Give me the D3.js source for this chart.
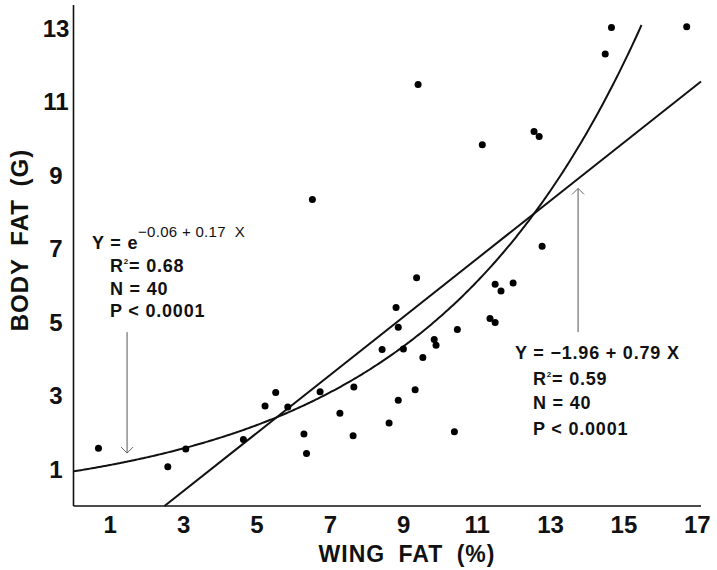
<!DOCTYPE html>
<html lang="en">
<head>
  <meta charset="UTF-8">
  <title>Body fat vs wing fat</title>
  <script src="https://cdn.jsdelivr.net/npm/d3@7"></script>
  <style>
    body { margin: 0; background: #fff; }
    text { font-family: "Liberation Sans", Arial, sans-serif; font-weight: bold; fill: #111; }
  </style>
</head>
<body>
  <div id="chart"></div>

  <script>
    const width = 717,
      height = 570;

    // wing fat (%) and body fat (g) for each bird
    const wingFat = [9.35, 8.79, 8.85, 8.41, 8.99, 9.83, 9.88, 10.46, 9.52, 7.64,
      6.72, 5.51, 5.22, 5.84, 9.31, 8.85, 7.26, 8.60, 6.28, 7.62,
      10.38, 4.63, 6.35, 14.66, 16.71, 14.49, 9.39, 11.14, 12.55, 12.69,
      12.77, 0.68, 3.06, 2.57, 6.51, 11.49, 11.65, 11.98, 11.35, 11.49];
    const bodyFat = [6.21, 5.40, 4.86, 4.26, 4.27, 4.53, 4.37, 4.80, 4.04, 3.24,
      3.11, 3.09, 2.72, 2.69, 3.16, 2.88, 2.52, 2.26, 1.96, 1.91,
      2.02, 1.81, 1.43, 13.02, 13.04, 12.30, 11.47, 9.83, 10.19, 10.05,
      7.07, 1.57, 1.55, 1.07, 8.34, 6.03, 5.85, 6.07, 5.10, 4.99];

    const tickValues = [1, 3, 5, 7, 9, 11, 13, 15, 17];
    const yTickValues = [1, 3, 5, 7, 9, 11, 13];

    // fitted models printed on the figure
    const expCoef = [-0.06, 0.17];   // Y = e^(a + bX)
    const linCoef = [-1.96, 0.79];   // Y = a + bX
    const expRange = [0, 15.48];
    const linRange = [2.48, 17.1];

    // arrows: [x, yFrom, yTo]
    const arrowLeft = [1.46, 4.73, 1.44];
    const arrowRight = [13.75, 4.73, 8.64];

    const x = d3.scaleLinear().domain([0, 17.1]).range([73.5, 701]);
    const y = d3.scaleLinear().domain([0, 13.63]).range([506, 5]);

    const svg = d3.select('#chart')
      .append('svg')
        .attr('width', width)
        .attr('height', height);

    // axes (lines only, no tick marks)
    svg.append('line')
      .attr('x1', x(0)).attr('x2', x(0))
      .attr('y1', y(13.63)).attr('y2', y(0))
      .attr('stroke', '#111').attr('stroke-width', 1.6);
    svg.append('line')
      .attr('x1', x(0)).attr('x2', x(17.1))
      .attr('y1', y(0)).attr('y2', y(0))
      .attr('stroke', '#111').attr('stroke-width', 1.6);

    svg.selectAll('.xtick')
      .data(tickValues)
      .join('text')
        .attr('class', 'xtick')
        .attr('x', d => x(d))
        .attr('y', 533)
        .attr('text-anchor', 'middle')
        .style('font-size', '24px')
        .text(d => d);

    svg.selectAll('.ytick')
      .data(yTickValues)
      .join('text')
        .attr('class', 'ytick')
        .attr('x', 56)
        .attr('y', d => y(d) + 8.5)
        .attr('text-anchor', 'middle')
        .style('font-size', '24px')
        .text(d => d);

    svg.append('text')
      .attr('x', 407)
      .attr('y', 562)
      .attr('text-anchor', 'middle')
      .style('font-size', '23px')
      .style('letter-spacing', '1px')
      .style('word-spacing', '6px')
      .text('WING FAT (%)');

    svg.append('text')
      .attr('transform', 'translate(28,240) rotate(-90)')
      .attr('text-anchor', 'middle')
      .style('font-size', '24px')
      .style('letter-spacing', '1px')
      .style('word-spacing', '5px')
      .text('BODY FAT (G)');

    // regression curves
    const expPts = d3.range(expRange[0], expRange[1], 0.05).concat([expRange[1]]);
    const line = d3.line()
      .x(d => x(d[0]))
      .y(d => y(d[1]));

    svg.append('path')
      .attr('d', line(expPts.map(v => [v, Math.exp(expCoef[0] + expCoef[1] * v)])))
      .attr('fill', 'none')
      .attr('stroke', '#111')
      .attr('stroke-width', 2);

    svg.append('path')
      .attr('d', line(linRange.map(v => [v, linCoef[0] + linCoef[1] * v])))
      .attr('fill', 'none')
      .attr('stroke', '#111')
      .attr('stroke-width', 2);

    // points
    svg.selectAll('.dot')
      .data(wingFat.map((v, i) => [v, bodyFat[i]]))
      .join('circle')
        .attr('class', 'dot')
        .attr('cx', d => x(d[0]))
        .attr('cy', d => y(d[1]))
        .attr('r', 3.5)
        .attr('fill', '#000');

    // arrows
    function arrow(a) {
      const ax = x(a[0]), y1 = y(a[1]), y2 = y(a[2]);
      const dir = y2 > y1 ? -1 : 1;
      svg.append('line')
        .attr('x1', ax).attr('x2', ax)
        .attr('y1', y1).attr('y2', y2)
        .attr('stroke', '#555').attr('stroke-width', 1);
      svg.append('path')
        .attr('d', `M${ax - 6},${y2 + dir * 6}L${ax},${y2}L${ax + 6},${y2 + dir * 6}`)
        .attr('fill', 'none')
        .attr('stroke', '#666').attr('stroke-width', 1);
    }
    arrow(arrowLeft);
    arrow(arrowRight);

    // equation labels
    const leftNote = svg.append('g').style('font-size', '18px').style('letter-spacing', '0.8px');
    leftNote.append('text').attr('x', 92).attr('y', 249).text('Y = e');
    leftNote.append('text').attr('x', 138).attr('y', 237)
      .style('font-size', '15px').style('font-weight', 'normal').style('letter-spacing', '0.3px')
      .attr('xml:space', 'preserve')
      .text('\u22120.06 + 0.17  X');
    leftNote.append('text').attr('x', 110).attr('y', 272)
      .html('R<tspan dy="-8" style="font-size:8px">2</tspan><tspan dy="8">= 0.68</tspan>');
    leftNote.append('text').attr('x', 110).attr('y', 295).text('N = 40');
    leftNote.append('text').attr('x', 110).attr('y', 317).text('P < 0.0001');

    const rightNote = svg.append('g').style('font-size', '18px').style('letter-spacing', '0.8px');
    rightNote.append('text').attr('x', 515).attr('y', 359).text('Y = \u22121.96 + 0.79 X');
    rightNote.append('text').attr('x', 533).attr('y', 385)
      .html('R<tspan dy="-8" style="font-size:8px">2</tspan><tspan dy="8">= 0.59</tspan>');
    rightNote.append('text').attr('x', 533).attr('y', 409).text('N = 40');
    rightNote.append('text').attr('x', 533).attr('y', 435).text('P < 0.0001');
  </script>
</body>
</html>
